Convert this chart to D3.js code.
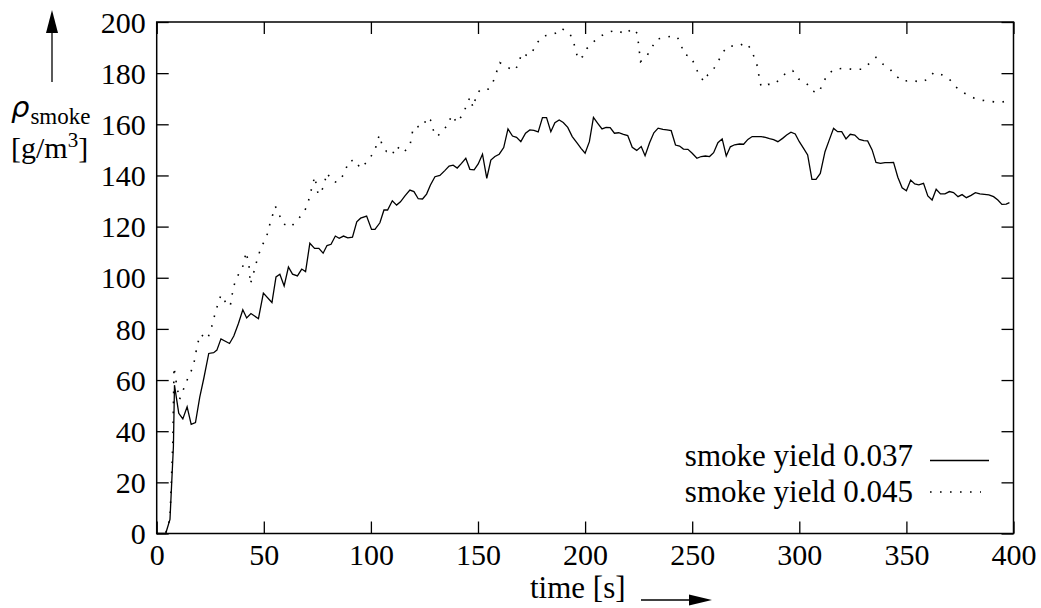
<!DOCTYPE html>
<html>
<head>
<meta charset="utf-8">
<script src="https://cdn.jsdelivr.net/npm/d3@7"></script>
<style>
  html, body { margin: 0; padding: 0; background: #fff; }
  svg { display: block; }
  text { font-family: "Liberation Serif", "Times New Roman", serif; fill: #000; }
</style>
</head>
<body>
<div id="chart"></div>
<script>
// ---- data ----
const xTicks = [0, 50, 100, 150, 200, 250, 300, 350, 400];
const yTicks = [0, 20, 40, 60, 80, 100, 120, 140, 160, 180, 200];
const seriesNames = ["smoke yield 0.037", "smoke yield 0.045"];

const tSolid = [0,4.2,6.2,7.8,8.3,10.3,12.2,14.2,16.1,18.1,20.1,22,24.3,26.6,28.1,30,34,36,38.2,40.2,42,44,47.5,49.8,53.8,55.7,57.5,59.5,61.5,63.4,65.7,67.7,69.5,71.5,73.7,75.7,77.7,79.5,81.4,83.4,85.2,87.2,89.2,91.4,93.4,95.2,98,100.3,101.9,104.2,106.1,107.8,110,112,113.8,115.9,118.2,120.1,122.1,124.1,126,127.8,129.9,132.2,134.5,136.5,138.4,140.3,142.3,144.3,146.2,148.2,150.1,152.1,154.1,156,157.9,159.9,162,164,166.1,168,170,172.2,174.2,176.1,178.1,180.1,182,184,185.9,187.9,189.8,191.9,194,196.4,198.1,200,202,203.9,205.9,207.9,209.8,211.7,213.7,215.7,217.9,219.9,222,224.1,226.2,228,230.1,232.1,234.1,236.3,238.2,240.2,242.2,244.1,245.9,248,250,252.2,254.2,256.2,258.1,260,262,264,265.9,267.8,269.8,272.1,274,276,278,280.2,282.2,284.2,286.1,288,290,292.2,294.1,296.1,298.1,300,302,303.9,305.9,307.8,309.8,312,314,316,317.9,319.8,321.8,323.8,325.9,328,330.1,331.9,334,335.8,337.9,340,342.1,344,346,348,350,352,353.9,355.8,358,360,362,363.9,365.9,368,370.1,372,374.1,376,378,380.2,382.2,384.3,386.4,388.5,390.7,392.7,394.6,396.6,398.1];
const vSolid = [0,0,5.5,34,58,47,44.8,49.5,42.7,43.4,53.3,60.7,70.4,70.7,71.7,76.1,74.3,77.2,82.2,87.5,84.3,86,84,94,90.3,100.3,101.4,96.8,104.2,101.4,100.7,103.4,102.4,113.5,111.5,111.5,109.6,112.6,113.1,116.3,115.4,116.3,115.6,115.9,121.9,123.3,124.1,118.9,118.9,121.5,126.5,126.5,130.1,128.4,129.7,132,134.3,133.7,130.9,130.8,132.7,136.3,139.5,140,141.9,143.7,144,142.9,144.7,146.7,142.4,142.2,144.5,148.3,138.9,146,147.4,148.3,150.9,158.2,155.4,154.9,153.2,156.5,157.8,157.6,157,162.6,162.6,157.1,160.6,161.7,160.7,158.8,155.2,152.5,150.6,148.7,153.2,162.7,160.4,158.2,158.8,158.7,156.5,156.7,156.1,155.6,151,149.8,151.3,147.7,152.8,156.7,158.5,158,157.8,157.5,151.9,151.5,150.3,150.2,148.7,146.7,147.4,147.6,147.4,148.9,152.8,154.3,147.6,151.2,152,152.3,152.2,154.1,155.2,155.2,155.2,154.9,154.4,154,153.2,154.5,155.8,156.9,156.2,153.2,150.6,148,138.5,138.5,140.8,149.3,153.9,158.4,157.1,157.1,154.3,156.1,155.8,154.1,153.6,153.5,150,145.1,144.7,145,145,145.1,139.3,135.2,134,138.2,136.7,136.3,136.9,132,130.4,134.6,132.8,132.8,133.7,133.3,131.7,132.5,131.3,132.2,133.3,132.8,132.6,132.4,131.7,130.4,128.7,128.8,129.4];

const tDotted = [0,4.2,6.2,7.5,8.1,8.9,10.6,12.7,14.3,16.5,17.4,19,20.4,23.7,25.4,27.7,30,32.5,34.3,35.9,37.5,40,41.8,43.1,43.7,45.2,46.5,48.8,51.1,52.9,55.4,57.2,58.8,62.6,64.9,68.3,70.3,72.6,73.8,75.4,77.7,79.5,81.8,84.2,87.7,89.5,92.9,94.9,97.2,99.5,101.9,103.9,105,107.3,110,111.7,113.1,115.1,118.2,119,119.8,122.1,124.7,126,127.8,129.1,131,133.4,136.1,137.6,140.3,142.6,144.3,146.2,147.7,149.3,151.2,154.7,157.1,158.6,160.2,163.6,167.2,169.2,170.3,173.4,175.4,177.6,180.4,184.8,187.4,188.9,192.8,194.4,195.6,196.7,198.9,200.9,204,207.5,211.7,215,218.7,222,224.3,224.9,225.4,225.9,228.8,231.2,233.5,237.1,240.5,243,244.9,246.1,249.5,251.1,253,255.5,257.3,260,262.3,264.3,267.1,271.3,274.9,277.6,279.1,280.7,281.2,282.2,285.4,288.4,291.4,294.5,296.9,299.7,303.1,305.9,309,310.9,313,316.4,320.6,325,329.3,332.7,335.8,338.9,342.4,345.2,348.3,352.2,356.9,360.5,362.8,366.7,370.1,372.9,376.6,380.5,384.4,388.8,393.5,395.8,397.8];
const vDotted = [0,0,6,35,65.1,60.2,52.3,56.8,60.2,64.3,66.7,73.9,77.9,76,80,87.4,93.3,90,88.8,96.6,100.3,103.8,110.1,104.5,97.5,101.7,105.9,112.1,115.4,121.2,127.9,124.7,121.2,119.8,121.9,125.1,128.2,135.8,139.6,132.4,135.1,141,137.9,137.2,140.7,145.6,146,142.8,144.5,146.7,150,155.8,152.6,149.3,148,151.5,150.6,148.9,151.5,155.2,158.8,159.1,159.3,162.7,161.7,157.8,155.2,157.6,159.8,163.6,160.6,163.6,166.6,170.5,166.6,171.5,173.7,173.7,176.7,180.3,184.1,182.3,181,184.1,187.8,186.7,188.4,191.9,194.5,195.1,196.1,197.5,195.6,192.7,189.1,185.4,186.5,189.7,192.3,194.6,196.2,196.8,195.2,197.5,195.6,191.7,188,184.5,186.7,190.1,193.3,193.9,194.5,194.2,191,187.4,186.5,183.2,179.7,176.7,179.4,181.6,184.9,188.2,190.7,190.4,191.9,189.3,185.8,182.1,178.4,174.7,175.6,175.6,178.2,180.6,181,177.7,176.4,173.1,172.3,175.7,179.3,181.5,181.9,181.5,181.5,183.8,186.2,183.6,181.5,178.9,176.7,177.3,176.4,177.9,180.3,179.3,177.6,174.7,172.4,170.6,169.5,169,168.5,168.9,169.5];

// ---- layout ----
const W = 1041, H = 608;
const plot = { left: 156.7, right: 1013.5, top: 22, bottom: 533.5 };
const FONT = 30;

const svg = d3.select("#chart").append("svg")
  .attr("width", W).attr("height", H);

const x = d3.scaleLinear().domain([0, 400]).range([plot.left, plot.right]);
const y = d3.scaleLinear().domain([0, 200]).range([plot.bottom, plot.top]);

const TICK = 12;
const axisStyle = g => {
  g.attr("font-family", null).attr("font-size", null);
  g.select(".domain").remove();
  g.selectAll(".tick line").attr("stroke", "#000").attr("stroke-width", 1.3);
};

// bottom axis (ticks inward)
svg.append("g").attr("transform", `translate(0,${plot.bottom})`)
  .call(d3.axisBottom(x).tickValues(xTicks).tickSizeInner(-TICK).tickSizeOuter(0).tickPadding(0).tickFormat(d3.format("d")))
  .call(axisStyle)
  .call(g => g.selectAll(".tick text").attr("dy", null).attr("y", 31)
      .style("font-size", FONT + "px"));
// top axis mirror ticks
svg.append("g").attr("transform", `translate(0,${plot.top})`)
  .call(d3.axisTop(x).tickValues(xTicks).tickSizeInner(-TICK).tickSizeOuter(0).tickFormat(""))
  .call(axisStyle);
// left axis
svg.append("g").attr("transform", `translate(${plot.left},0)`)
  .call(d3.axisLeft(y).tickValues(yTicks).tickSizeInner(-TICK).tickSizeOuter(0).tickPadding(0).tickFormat(d3.format("d")))
  .call(axisStyle)
  .call(g => g.selectAll(".tick text").attr("x", -11).attr("dy", "0.34em")
      .style("font-size", FONT + "px"));
// right axis mirror ticks
svg.append("g").attr("transform", `translate(${plot.right},0)`)
  .call(d3.axisRight(y).tickValues(yTicks).tickSizeInner(-TICK).tickSizeOuter(0).tickFormat(""))
  .call(axisStyle);

// frame
svg.append("rect")
  .attr("x", plot.left).attr("y", plot.top)
  .attr("width", plot.right - plot.left).attr("height", plot.bottom - plot.top)
  .attr("fill", "none").attr("stroke", "#000").attr("stroke-width", 1.5);

// data lines
const line = d3.line().x(d => x(d[0])).y(d => y(d[1]));
const solidData = tSolid.map((t, i) => [t, vSolid[i]]);
const dottedData = tDotted.map((t, i) => [t, vDotted[i]]);

svg.append("path").datum(solidData)
  .attr("d", line).attr("fill", "none").attr("stroke", "#000").attr("stroke-width", 1.3);
svg.append("path").datum(dottedData)
  .attr("d", line).attr("fill", "none").attr("stroke", "#000").attr("stroke-width", 1.6)
  .attr("stroke-dasharray", "1.6,8.4");

// legend
const legendRows = [
  { name: seriesNames[0], base: 466, ly: 460.5, x2: 989, dash: null },
  { name: seriesNames[1], base: 502, ly: 492, x2: 981, dash: "1.6,8.4" }
];
legendRows.forEach(r => {
  svg.append("text").attr("x", 913).attr("y", r.base).attr("text-anchor", "end")
    .style("font-size", "31px").text(r.name);
  svg.append("line").attr("x1", 930).attr("x2", r.x2).attr("y1", r.ly).attr("y2", r.ly)
    .attr("stroke", "#000").attr("stroke-width", r.dash ? 1.6 : 1.3)
    .attr("stroke-dasharray", r.dash);
});

// x axis title with arrow
svg.append("text").attr("x", 530).attr("y", 598)
  .style("font-size", "31px").text("time [s]");
svg.append("line").attr("x1", 641).attr("x2", 692).attr("y1", 600).attr("y2", 600)
  .attr("stroke", "#000").attr("stroke-width", 1.3);
svg.append("path").attr("d", "M712,600 L689,594.5 L689,605.5 Z").attr("fill", "#000");

// y axis title with arrow
svg.append("line").attr("x1", 52).attr("x2", 52).attr("y1", 82).attr("y2", 30)
  .attr("stroke", "#000").attr("stroke-width", 1.3);
svg.append("path").attr("d", "M52,10 L46,33 L58,33 Z").attr("fill", "#000");

// y title: rho with subscript, then the unit line below
const yl = svg.append("text").attr("x", 11).attr("y", 117).style("font-size", FONT + "px");
yl.append("tspan").style("font-family", "DejaVu Sans").style("font-style", "italic").style("font-size", "29px").text("ρ");
yl.append("tspan").attr("dx", 1).attr("dy", 7).style("font-size", "23px").text("smoke");

const yu = svg.append("text").attr("x", 11).attr("y", 158).style("font-size", FONT + "px");
yu.append("tspan").text("[g/m");
yu.append("tspan").attr("dy", -11).style("font-size", "21px").text("3");
yu.append("tspan").attr("dy", 11).text("]");
</script>
</body>
</html>
